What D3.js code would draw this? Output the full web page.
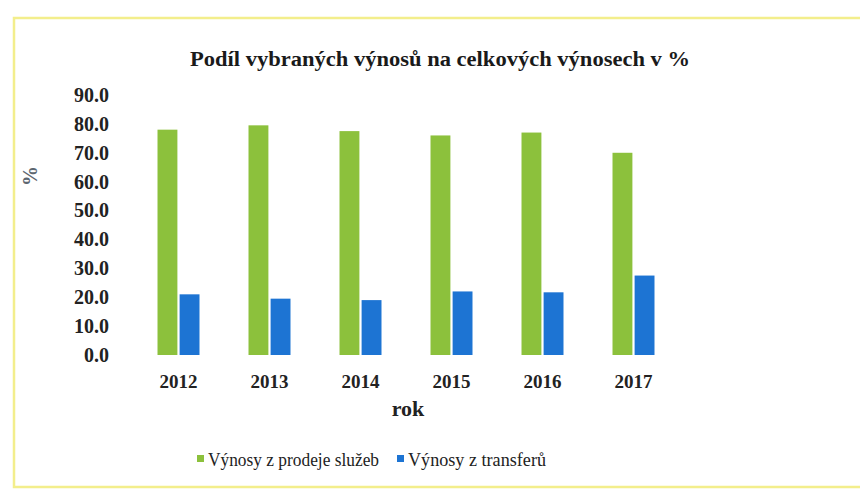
<!DOCTYPE html>
<html>
<head>
<meta charset="utf-8">
<script src="https://cdn.jsdelivr.net/npm/d3@7"></script>
<style>
  body { margin: 0; background: #fff; }
  svg { display: block; }
</style>
</head>
<body>
<figure id="chart" style="margin:0"></figure>
<script>
// values
const years = ["2012", "2013", "2014", "2015", "2016", "2017"];
const seriesNames = ["Výnosy z prodeje služeb", "Výnosy z transferů"];
const sluzby = [78.0, 79.5, 77.5, 76.0, 77.0, 70.0];
const transfery = [21.0, 19.5, 19.0, 22.0, 21.7, 27.5];
const yTicks = [0, 10, 20, 30, 40, 50, 60, 70, 80, 90];

const width = 860, height = 491;
const colors = ["#8cc13c", "#1d74d3"];
const serif = "'Liberation Serif', 'DejaVu Serif', serif";

const svg = d3.select("#chart").append("svg")
  .attr("width", width)
  .attr("height", height);

// yellowish frame of the chart area
svg.append("rect")
  .attr("x", 14).attr("y", 18)
  .attr("width", 850).attr("height", 469)
  .attr("fill", "#fff")
  .attr("stroke", "#f3ee8c")
  .attr("stroke-width", 2.5);

// title
svg.append("text")
  .attr("x", 440).attr("y", 66)
  .attr("text-anchor", "middle")
  .attr("font-family", serif)
  .attr("font-weight", "bold")
  .attr("font-size", 20)
  .attr("textLength", 500)
  .attr("lengthAdjust", "spacingAndGlyphs")
  .attr("fill", "#1a1a1a")
  .text("Podíl vybraných výnosů na celkových výnosech v %");

const x0 = d3.scaleBand()
  .domain(years)
  .range([133, 679])
  .paddingInner(0.49)
  .paddingOuter(0.245);

const x1 = d3.scaleBand()
  .domain([0, 1])
  .range([0, x0.bandwidth()])
  .padding(0.1);

const y = d3.scaleLinear()
  .domain([0, 90])
  .range([355, 95]);

// y axis labels only (no line, no grid)
const yAxis = svg.append("g")
  .attr("transform", "translate(109,0)")
  .call(d3.axisLeft(y).tickValues(yTicks).tickFormat(d3.format(".1f")).tickSize(0).tickPadding(0));
yAxis.select(".domain").remove();
yAxis.selectAll("text")
  .attr("font-family", serif)
  .attr("font-weight", "bold")
  .attr("font-size", 20)
  .attr("fill", "#222");

// y axis title
svg.append("text")
  .attr("transform", "translate(32,176) rotate(-90)")
  .attr("text-anchor", "middle")
  .attr("dominant-baseline", "middle")
  .attr("font-family", serif)
  .attr("font-weight", "bold")
  .attr("font-size", 20)
  .attr("fill", "#5d6670")
  .text("%");

// bars
const rows = years.map((yr, i) => ({ year: yr, values: [sluzby[i], transfery[i]] }));

const groups = svg.append("g").selectAll("g")
  .data(rows).enter()
  .append("g")
  .attr("transform", (d) => "translate(" + x0(d.year) + ",0)");

groups.selectAll("rect")
  .data((d) => d.values.map((v, k) => ({ k: k, v: v }))).enter()
  .append("rect")
  .attr("x", (d) => x1(d.k))
  .attr("y", (d) => y(d.v))
  .attr("width", x1.bandwidth())
  .attr("height", (d) => y(0) - y(d.v))
  .attr("fill", (d) => colors[d.k]);

// x axis labels
const xAxis = svg.append("g")
  .attr("transform", "translate(0,371)")
  .call(d3.axisBottom(x0).tickSize(0).tickPadding(4));
xAxis.select(".domain").remove();
xAxis.selectAll("text")
  .attr("font-family", serif)
  .attr("font-weight", "bold")
  .attr("font-size", 19)
  .attr("fill", "#222");

// x axis title
svg.append("text")
  .attr("x", 408).attr("y", 416)
  .attr("text-anchor", "middle")
  .attr("font-family", serif)
  .attr("font-weight", "bold")
  .attr("font-size", 22)
  .attr("fill", "#222")
  .text("rok");

// legend
const legendX = [197, 397];
const legendLen = [171, 138];
const legend = svg.append("g").selectAll("g")
  .data(seriesNames).enter()
  .append("g")
  .attr("transform", (d, i) => "translate(" + legendX[i] + ",460)");
legend.append("rect")
  .attr("x", 0).attr("y", -5)
  .attr("width", 7).attr("height", 7)
  .attr("fill", (d, i) => colors[i]);
legend.append("text")
  .attr("x", 11).attr("y", 6)
  .attr("font-family", serif)
  .attr("font-size", 19)
  .attr("textLength", (d, i) => legendLen[i])
  .attr("lengthAdjust", "spacingAndGlyphs")
  .attr("fill", "#222")
  .text((d) => d);
</script>
</body>
</html>
